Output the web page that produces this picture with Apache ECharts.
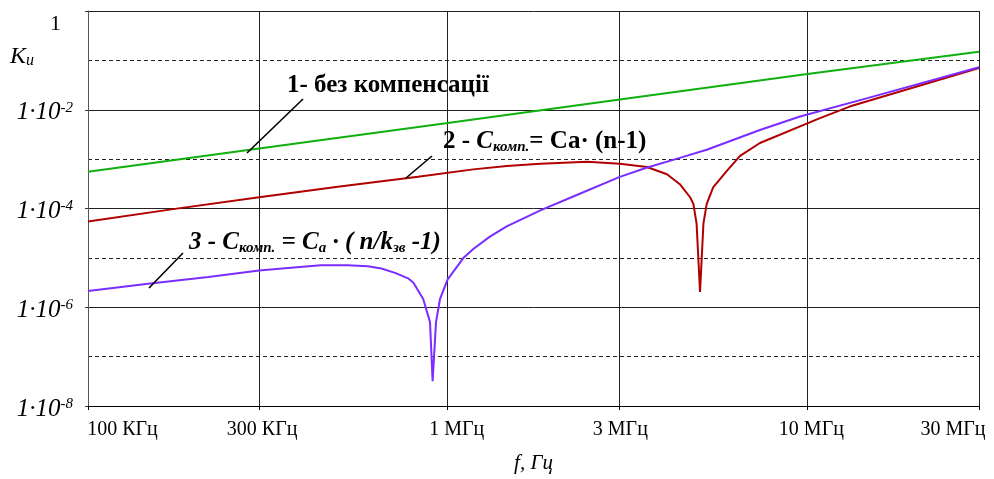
<!DOCTYPE html>
<html>
<head>
<meta charset="utf-8">
<script src="https://cdn.jsdelivr.net/npm/echarts@6/dist/echarts.min.js"></script>
<style>
  html, body { margin: 0; padding: 0; background: #fff; }
  #chart { width: 994px; height: 479px; }
</style>
</head>
<body>
<div id="chart"></div>
<script>
const FONT = '"Liberation Serif", "Times New Roman", serif';

// axis ticks
const xTicks = [1e5, 3e5, 1e6, 3e6, 1e7, 3e7];
const xTickLabels = ['100 КГц', '300 КГц', '1 МГц', '3 МГц', '10 МГц', '30 МГц'];
const ySolidTicks = [1e-8, 1e-6, 1e-4, 1e-2, 1];
const yExponents = ['-8', '-6', '-4', '-2', null];
const yDashedTicks = [1e-7, 1e-5, 1e-3, 1e-1];

// 1 - без компенсації
const greenFreq = [1e5, 2.99e5, 1e6, 3.01e6, 1e7, 3e7];
const greenK = [5.58e-4, 1.64e-3, 5.38e-3, 1.62e-2, 5.28e-2, 1.49e-1];

// 2 - Cкомп = Ca(n-1)
const redFreq = [1e5, 1.705e5, 2.99e5, 4.95e5, 8.27e5, 1.178e6, 1.46e6, 1.81e6, 2.44e6, 3.01e6,
  3.58e6, 4.07e6, 4.42e6, 4.72e6, 4.82e6, 4.92e6, 5.03e6, 5.14e6, 5.25e6, 5.47e6,
  5.98e6, 6.5e6, 7.38e6, 1.08e7, 1.31e7, 3e7];
const redK = [5.48e-5, 9.6e-5, 1.69e-4, 2.76e-4, 4.38e-4, 6.2e-4, 7.25e-4, 8.05e-4, 8.83e-4, 8.05e-4,
  6.92e-4, 4.93e-4, 3.11e-4, 1.69e-4, 1.24e-4, 4.95e-5, 2.05e-6, 4.95e-5, 1.24e-4, 2.67e-4,
  5.84e-4, 1.16e-3, 2.12e-3, 6.67e-3, 1.16e-2, 7.0e-2];

// 3 - Cкомп = Ca(n/kзв-1)
const blueFreq = [1e5, 1.47e5, 2.16e5, 2.99e5, 3.6e5, 4.44e5, 5.28e5, 6.0e5, 6.54e5, 7.14e5,
  7.76e5, 8.03e5, 8.55e5, 8.93e5, 9.08e5, 9.28e5, 9.52e5, 1e6, 1.105e6, 1.178e6,
  1.31e6, 1.459e6, 1.81e6, 2.234e6, 3.01e6, 3.57e6, 4.42e6, 5.25e6, 7.38e6, 9.54e6,
  1.46e7, 3e7];
const blueK = [2.14e-6, 3.0e-6, 4.08e-6, 5.56e-6, 6.26e-6, 7.08e-6, 7.08e-6, 6.76e-6, 6.08e-6, 4.97e-6,
  3.85e-6, 3.14e-6, 1.47e-6, 5.0e-7, 3.17e-8, 5.0e-7, 1.47e-6, 3.67e-6, 9.9e-6, 1.51e-5,
  2.69e-5, 4.35e-5, 9.16e-5, 1.75e-4, 4.38e-4, 6.7e-4, 1.06e-3, 1.55e-3, 3.9e-3, 7.31e-3,
  1.7e-2, 7.28e-2];

const pairs = (xs, ys) => xs.map((x, i) => [x, ys[i]]);

function nearest(list, v) {
  let best = 0;
  list.forEach((t, i) => {
    if (Math.abs(Math.log(v / t)) < Math.abs(Math.log(v / list[best]))) best = i;
  });
  return best;
}

const chart = echarts.init(document.getElementById('chart'));

const xLabelRich = {};
[[0, 0, 0, 69], [0, 0, 0, 5], [0, 0, 0, 18], [0, 0, 0, 2], [0, 0, 0, 8], [0, 52, 0, 0]].forEach((p, i) => {
  xLabelRich['l' + i] = { fontFamily: FONT, fontSize: 20, color: '#000', padding: p };
});

const option = {
  animation: false,
  backgroundColor: '#fff',
  grid: { left: 88, top: 11, right: 15, bottom: 68 },
  xAxis: {
    type: 'log',
    logBase: 10,
    min: 1e5,
    max: 3e7,
    axisLine: { show: true, onZero: false, lineStyle: { color: '#000', width: 1 } },
    axisTick: { show: true, customValues: xTicks, length: 4, lineStyle: { color: '#000' } },
    minorTick: { show: false },
    axisLabel: {
      customValues: xTicks,
      margin: 14,
      formatter: v => {
        const i = nearest(xTicks, v);
        return '{l' + i + '|' + xTickLabels[i] + '}';
      },
      rich: xLabelRich
    },
    splitLine: { show: true, lineStyle: { color: '#222', width: 1 } },
    name: 'f, Гц',
    nameLocation: 'middle',
    nameGap: 47,
    nameTextStyle: { fontFamily: FONT, fontStyle: 'italic', fontSize: 21, color: '#000' }
  },
  yAxis: [
    {
      type: 'log',
      logBase: 10,
      min: 1e-8,
      max: 1,
      axisLine: { show: true, onZero: false, lineStyle: { color: '#555', width: 1 } },
      axisTick: { show: true, customValues: ySolidTicks, length: 3, lineStyle: { color: '#333' } },
      minorTick: { show: false },
      axisLabel: {
        customValues: ySolidTicks,
        margin: 15,
        padding: [6, 0, 0, 0],
        formatter: v => {
          const i = nearest(ySolidTicks, v);
          if (yExponents[i] === null) return '{one|1}';
          return '{m|1·10}{s|' + yExponents[i] + '}';
        },
        rich: {
          m: { fontFamily: FONT, fontStyle: 'italic', fontSize: 25, color: '#000', verticalAlign: 'bottom' },
          s: { fontFamily: FONT, fontStyle: 'italic', fontSize: 15, color: '#000', verticalAlign: 'top' },
          one: { fontFamily: FONT, fontSize: 22, color: '#000', padding: [20, 12, 0, 0] }
        }
      },
      splitLine: { show: true, lineStyle: { color: '#222', width: 1 } }
    },
    {
      type: 'log',
      logBase: 10,
      min: 1e-8,
      max: 1,
      position: 'left',
      axisLine: { show: false },
      axisTick: { show: false, customValues: yDashedTicks },
      axisLabel: { show: false, customValues: yDashedTicks },
      minorTick: { show: false },
      splitLine: { show: true, lineStyle: { color: '#222', width: 1, type: [4, 3] } }
    }
  ],
  series: [
    {
      name: '1',
      type: 'line',
      data: pairs(greenFreq, greenK),
      showSymbol: false,
      lineStyle: { color: '#10b010', width: 2 },
      itemStyle: { color: '#10b010' }
    },
    {
      name: '2',
      type: 'line',
      data: pairs(redFreq, redK),
      showSymbol: false,
      lineStyle: { color: '#b00000', width: 2 },
      itemStyle: { color: '#b00000' }
    },
    {
      name: '3',
      type: 'line',
      data: pairs(blueFreq, blueK),
      showSymbol: false,
      lineStyle: { color: '#7b2cff', width: 2 },
      itemStyle: { color: '#7b2cff' }
    }
  ],
  graphic: [
    {
      type: 'text', x: 10, y: 57, z: 10,
      style: {
        text: '{k|K}{u|u}',
        verticalAlign: 'middle',
        rich: {
          k: { fontFamily: FONT, fontStyle: 'italic', fontSize: 24, fill: '#000', verticalAlign: 'bottom' },
          u: { fontFamily: FONT, fontStyle: 'italic', fontSize: 16, fill: '#000', verticalAlign: 'bottom', lineHeight: 12 }
        }
      }
    },
    {
      type: 'text', x: 287, y: 86, z: 10,
      style: { text: '1- без компенсації', font: 'bold 25px ' + FONT, fill: '#000', verticalAlign: 'middle' }
    },
    {
      type: 'text', x: 443, y: 142, z: 10,
      style: {
        text: '{n|2 - }{c|C}{sub|комп.}{n|= Ca· (n-1)}',
        verticalAlign: 'middle',
        rich: {
          n: { fontFamily: FONT, fontWeight: 'bold', fontSize: 25, fill: '#000', verticalAlign: 'bottom' },
          c: { fontFamily: FONT, fontWeight: 'bold', fontStyle: 'italic', fontSize: 25, fill: '#000', verticalAlign: 'bottom' },
          sub: { fontFamily: FONT, fontWeight: 'bold', fontStyle: 'italic', fontSize: 15, fill: '#000', verticalAlign: 'bottom', lineHeight: 10 }
        }
      }
    },
    {
      type: 'text', x: 189, y: 243, z: 10,
      style: {
        text: '{c|3 - C}{sub|комп.}{c| = C}{sub|a}{c| · ( n/k}{sub|зв}{c| -1)}',
        verticalAlign: 'middle',
        rich: {
          c: { fontFamily: FONT, fontWeight: 'bold', fontStyle: 'italic', fontSize: 25, fill: '#000', verticalAlign: 'bottom' },
          sub: { fontFamily: FONT, fontWeight: 'bold', fontStyle: 'italic', fontSize: 15, fill: '#000', verticalAlign: 'bottom', lineHeight: 10 }
        }
      }
    },
    { type: 'line', z: 10, shape: { x1: 247, y1: 153, x2: 303, y2: 99 }, style: { stroke: '#000', lineWidth: 1.6 } },
    { type: 'line', z: 10, shape: { x1: 406, y1: 178, x2: 432, y2: 156 }, style: { stroke: '#000', lineWidth: 1.6 } },
    { type: 'line', z: 10, shape: { x1: 149, y1: 288, x2: 183, y2: 253 }, style: { stroke: '#000', lineWidth: 1.6 } }
  ]
};

chart.setOption(option);
</script>
</body>
</html>
